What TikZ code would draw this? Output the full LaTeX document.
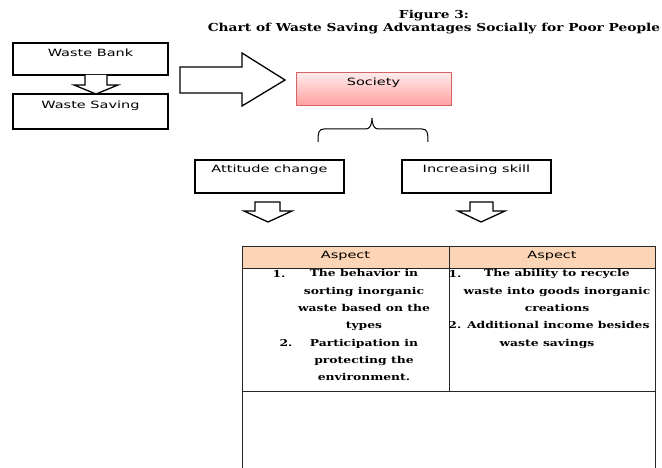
\documentclass[tikz,border=0pt]{standalone}
\usepackage{fontspec}
\setmainfont{DejaVu Serif}
\newfontfamily\boxfont[FakeStretch=1.45]{DejaVu Sans}
\newfontfamily\cellfont[FakeStretch=1.3]{DejaVu Serif}
\newfontfamily\titlefont[FakeStretch=1.25]{DejaVu Serif}
\usetikzlibrary{positioning}
\definecolor{societyred}{RGB}{214,100,100}
\definecolor{headpeach}{RGB}{251,213,181}
\tikzset{
  box/.style={draw,line width=1.6pt,minimum width=155pt,minimum height=32pt,inner sep=0pt},
  boxtext/.style={font=\boxfont\fontsize{10}{11}\selectfont,inner sep=0pt},
  hollow/.style={draw,line width=1.3pt,fill=white,line join=miter},
  celltext/.style={font=\cellfont\bfseries\fontsize{9.5}{17.3}\selectfont,align=center,inner sep=0pt,anchor=north},
  numtext/.style={font=\cellfont\bfseries\fontsize{9.5}{10}\selectfont,inner sep=0pt}
}
\begin{document}
\begin{tikzpicture}[x=1pt,y=-1pt]
\useasboundingbox(0,0)rectangle(662,468);
% title
\node[font=\titlefont\bfseries\fontsize{11}{13}\selectfont,align=center,inner sep=0pt](title)at(434,22){Figure 3:\\Chart of Waste Saving Advantages Socially for Poor People};
% left boxes
\node[box](bank)at(90.5,59){};
\node[boxtext](banklbl)at(90.5,53){Waste Bank};
\node[box,minimum height=35pt](saving)at(90.5,111.5){};
\node[boxtext](savinglbl)at(90.5,106){Waste Saving};
\draw[hollow](85,75)--(85,85)--(74,85)--(96,94)--(118,85)--(107,85)--(107,75);
\draw[hollow](180,67)--(242,67)--(242,53)--(285,80)--(242,106)--(242,93)--(180,93)--cycle;
% society
\node[draw=societyred,line width=1pt,top color=red!8,bottom color=red!38,minimum width=155pt,minimum height=33pt,inner sep=0pt](society)at(373.5,89.5){};
\node[boxtext](societylbl)at(373.5,83){Society};
\draw[line width=1pt](318,142)..controls(318,132)and(319,129)..(324,129)--(366,129)..controls(370,129)and(372,124)..(372,118)..controls(372,124)and(374,129)..(378,129)--(422,129)..controls(427,129)and(428,132)..(428,142);
% two advantages
\node[box,minimum width=149pt,minimum height=33pt](attitude)at(269.5,176.5){};
\node[boxtext](attitudelbl)at(269.5,170){Attitude change};
\node[box,minimum width=149pt,minimum height=33pt](skill)at(476.5,176.5){};
\node[boxtext](skilllbl)at(476.5,170){Increasing skill};
\draw[hollow](255,202)--(280,202)--(280,211)--(292,211)--(268,222)--(244,211)--(255,211)--cycle;
\draw[hollow](470,202)--(493,202)--(493,211)--(505,211)--(481,222)--(458,211)--(470,211)--cycle;
% table
\fill[headpeach](242,246)rectangle(655,268);
\draw[line width=0.9pt,black!85](242,470)--(242,246)--(655,246)--(655,470);
\draw[line width=0.9pt,black!85](242,268)--(655,268);
\draw[line width=0.9pt,black!85](449,246)--(449,391);
\draw[line width=0.9pt,black!85](242,391)--(655,391);
\node[boxtext](aspectA)at(345.5,256){Aspect};
\node[boxtext](aspectB)at(552,256){Aspect};
\node[celltext](cellA)at(364,269.5){The behavior in\\sorting inorganic\\waste based on the\\types\\Participation in\\protecting the\\environment.};
\node[numtext](numA)at(279,274){1.};
\node[numtext](numB)at(286,343){2.};
\node[celltext](cellB)at(557,269.5){The ability to recycle\\waste into goods inorganic\\creations\\2. Additional income besides\makebox[16pt]{}\\waste savings\makebox[20pt]{}};
\node[numtext](numC)at(455,274){1.};
\end{tikzpicture}
\end{document}
